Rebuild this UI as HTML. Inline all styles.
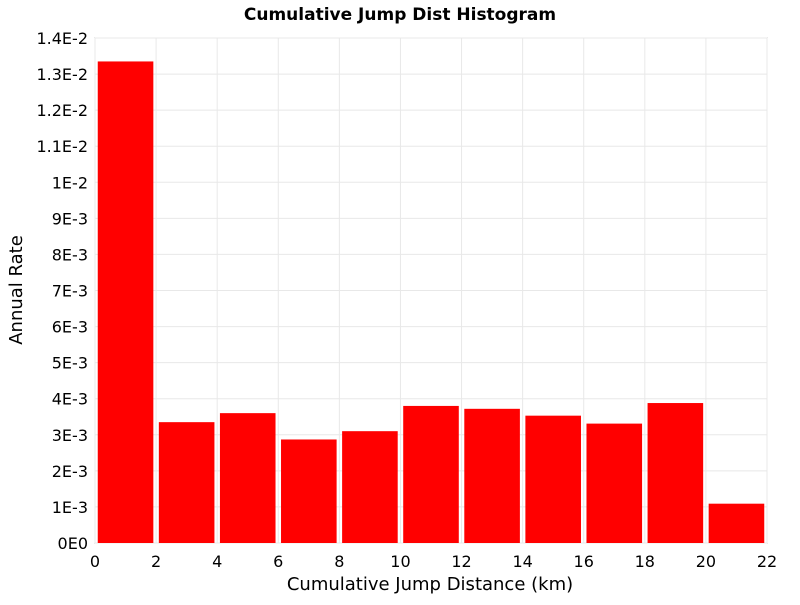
<!DOCTYPE html>
<html><head><meta charset="utf-8"><style>
body{margin:0;background:#fff;}
svg{font-family:"DejaVu Sans","Liberation Sans",sans-serif;}
</style></head><body>
<svg id="chart" width="800" height="600">
<text x="400" y="20" text-anchor="middle" font-size="17" font-weight="bold">Cumulative Jump Dist Histogram</text>
<rect x="95" y="38" width="672" height="505" fill="#fff" stroke="#aaa"/>
<g id="grid"></g><g id="bars"></g><g id="axes"></g>
<text x="430" y="590" text-anchor="middle" font-size="18">Cumulative Jump Distance (km)</text>
<text transform="translate(22,290) rotate(-90)" text-anchor="middle" font-size="18">Annual Rate</text>
</svg>
<script>
const binCenters=[1,3,5,7,9,11,13,15,17,19,21];
const rates=[0.01335,0.00335,0.0036,0.00287,0.0031,0.0038,0.00372,0.00353,0.00331,0.00388,0.00109];
const xTicks=[0,2,4,6,8,10,12,14,16,18,20,22];
const yTicks=[0,0.001,0.002,0.003,0.004,0.005,0.006,0.007,0.008,0.009,0.01,0.011,0.012,0.013,0.014];
const yLabels=["0E0","1E-3","2E-3","3E-3","4E-3","5E-3","6E-3","7E-3","8E-3","9E-3","1E-2","1.1E-2","1.2E-2","1.3E-2","1.4E-2"];
const L=95,R=767,T=38,B=543,NS="http://www.w3.org/2000/svg";
const xs=v=>L+(v/22)*(R-L), ys=v=>B-(v/0.014)*(B-T);
function mk(t,a,p){const e=document.createElementNS(NS,t);for(const k in a)e.setAttribute(k,a[k]);p.appendChild(e);return e;}
const g=document.getElementById('grid'),b=document.getElementById('bars'),ax=document.getElementById('axes');
xTicks.forEach(v=>{
 const l=mk('line',{x1:xs(v),x2:xs(v),y1:T,y2:B,stroke:'#e8e8e8'},g);
 
 
 const t=mk('text',{x:xs(v),y:B+24,'text-anchor':'middle','font-size':16},ax);t.textContent=v;
 
 
});
yTicks.forEach((v,i)=>{
 const l=mk('line',{x1:L,x2:R,y1:ys(v),y2:ys(v),stroke:'#e8e8e8'},g);
 
 
 const t=mk('text',{x:L-7,y:ys(v)+6,'text-anchor':'end','font-size':16},ax);t.textContent=yLabels[i];
 
 
});
binCenters.forEach((c,i)=>{
 const w=xs(1.82)-xs(0);
 const r=mk('rect',{x:xs(c)-w/2,y:ys(rates[i]),width:w,height:B-ys(rates[i]),fill:'#ff0000'},b);
 
 
});
</script>
</body></html>
